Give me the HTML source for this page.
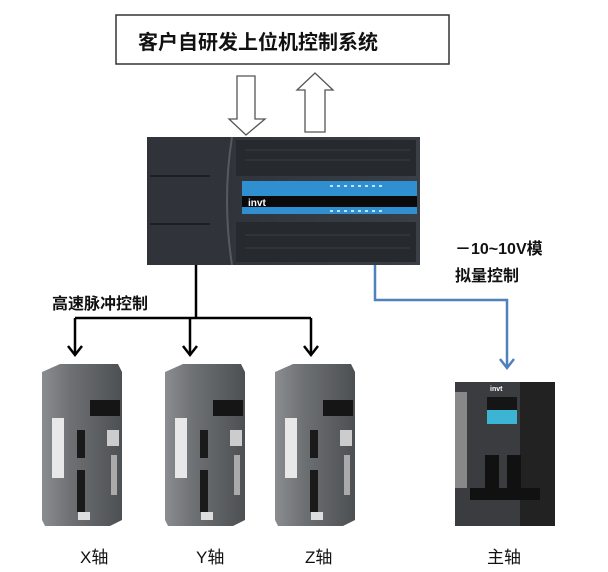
<!DOCTYPE html>
<html><head><meta charset="utf-8"><style>
body{margin:0;background:#fff;width:608px;height:572px;overflow:hidden;position:relative;font-family:"Liberation Sans","Noto Sans CJK SC",sans-serif}
.t{position:absolute;font-weight:bold;color:#111;white-space:nowrap}
</style></head><body>
<svg width="608" height="572" style="position:absolute;left:0;top:0">
<defs>
<linearGradient id="pl" x1="0" x2="1"><stop offset="0" stop-color="#2c3036"/><stop offset="1" stop-color="#3a3f46"/></linearGradient>
<linearGradient id="dv" x1="0" x2="1"><stop offset="0" stop-color="#8a8d90"/><stop offset="0.35" stop-color="#6e7174"/><stop offset="1" stop-color="#4d5053"/></linearGradient>
</defs>
<rect x="116" y="15" width="333" height="49" fill="#fff" stroke="#333" stroke-width="1.5"/>
<!-- arrows -->
<path d="M237 76 H255 V119 H265 L246 135 L229 119 H237 Z" fill="#fff" stroke="#555" stroke-width="1.3"/>
<path d="M305 132 V90 H297 L315 73 L333 90 H325 V132 Z" fill="#fff" stroke="#555" stroke-width="1.3"/>
<!-- PLC -->
<rect x="147" y="137" width="273" height="128" fill="url(#pl)"/>
<rect x="147" y="137" width="85" height="128" fill="#30343a"/>
<path d="M232 137 Q222 200 232 265" stroke="#555a60" stroke-width="2" fill="none"/>
<rect x="236" y="140" width="180" height="36" fill="#26292e"/>
<rect x="236" y="222" width="180" height="40" fill="#26292e"/>
<g stroke="#3a3e44" stroke-width="1">
<line x1="245" y1="150" x2="410" y2="150"/><line x1="245" y1="160" x2="410" y2="160"/><line x1="245" y1="235" x2="410" y2="235"/><line x1="245" y1="248" x2="410" y2="248"/></g>
<line x1="150" y1="176" x2="210" y2="176" stroke="#1c1e22" stroke-width="2"/>
<line x1="150" y1="224" x2="210" y2="224" stroke="#1c1e22" stroke-width="2"/>
<rect x="242" y="181" width="175" height="33" fill="#2f8fd0"/>
<rect x="242" y="196" width="175" height="11" fill="#0a0a0a"/>
<text x="248" y="206" font-size="10" font-weight="bold" fill="#fff" font-family="Liberation Sans">invt</text>
<g fill="#bfe4ff"><rect x="330" y="185" width="3" height="2"/><rect x="337" y="185" width="3" height="2"/><rect x="344" y="185" width="3" height="2"/><rect x="351" y="185" width="3" height="2"/><rect x="358" y="185" width="3" height="2"/><rect x="365" y="185" width="3" height="2"/><rect x="372" y="185" width="3" height="2"/><rect x="379" y="185" width="3" height="2"/>
<rect x="330" y="210" width="3" height="2"/><rect x="337" y="210" width="3" height="2"/><rect x="344" y="210" width="3" height="2"/><rect x="351" y="210" width="3" height="2"/><rect x="358" y="210" width="3" height="2"/><rect x="365" y="210" width="3" height="2"/><rect x="372" y="210" width="3" height="2"/><rect x="379" y="210" width="3" height="2"/></g>
<!-- black lines -->
<g stroke="#000" stroke-width="2.5" fill="none">
<line x1="196" y1="265" x2="196" y2="318"/>
<line x1="75" y1="318" x2="311" y2="318"/>
<line x1="75" y1="318" x2="75" y2="354"/><line x1="190" y1="318" x2="190" y2="354"/><line x1="311" y1="318" x2="311" y2="354"/>
<path d="M68 346 L75 355 L82 346"/><path d="M183 346 L190 355 L197 346"/><path d="M304 346 L311 355 L318 346"/>
</g>
<!-- blue line -->
<g stroke="#4f81bd" stroke-width="2.5" fill="none">
<path d="M375 265 V300 H507 V366"/>
<path d="M500 359 L507 368 L514 359"/>
</g>
<!-- drives -->
<g id="d">
<path d="M42 372 L60 364 L118 364 L122 372 V520 L110 526 H45 L42 520 Z" fill="url(#dv)"/>
<rect x="52" y="418" width="12" height="60" fill="#e8e8e8"/>
<rect x="90" y="400" width="30" height="16" fill="#151515"/>
<rect x="77" y="430" width="8" height="28" fill="#1a1a1a"/>
<rect x="77" y="470" width="8" height="42" fill="#1a1a1a"/>
<rect x="107" y="430" width="12" height="16" fill="#ccc"/>
<rect x="111" y="455" width="6" height="40" fill="#aaa"/>
<rect x="78" y="512" width="12" height="8" fill="#ddd"/>
</g>
<use href="#d" x="123"/>
<use href="#d" x="233"/>
<!-- inverter -->
<rect x="455" y="382" width="100" height="144" fill="#3a3c3f"/>
<rect x="520" y="382" width="35" height="144" fill="#222"/>
<rect x="455" y="392" width="12" height="96" fill="#888"/>
<rect x="487" y="397" width="30" height="14" fill="#151515"/>
<rect x="487" y="410" width="30" height="14" fill="#3cb5d5"/>
<rect x="485" y="455" width="14" height="35" fill="#111"/><rect x="507" y="455" width="14" height="35" fill="#111"/>
<rect x="470" y="488" width="70" height="12" fill="#111"/>
<text x="490" y="391" font-size="7" font-weight="bold" fill="#fff">invt</text>
</svg>
<div class="t" style="left:138px;top:26px;font-size:20px">客户自研发上位机控制系统</div>
<div class="t" style="left:52px;top:290px;font-size:16px">高速脉冲控制</div>
<div class="t" style="left:455px;top:235px;font-size:16px">－10~10V模</div>
<div class="t" style="left:455px;top:262px;font-size:16px">拟量控制</div>
<div class="t" style="left:80px;top:543px;font-size:17px;font-weight:normal">X轴</div>
<div class="t" style="left:196px;top:543px;font-size:17px;font-weight:normal">Y轴</div>
<div class="t" style="left:305px;top:543px;font-size:17px;font-weight:normal">Z轴</div>
<div class="t" style="left:487px;top:543px;font-size:17px;font-weight:normal">主轴</div>
</body></html>
